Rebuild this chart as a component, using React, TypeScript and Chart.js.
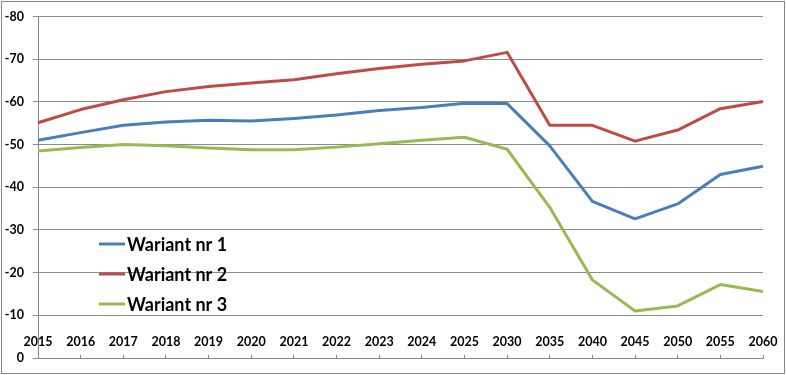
import React, { useEffect, useRef } from "react";
import { Chart, registerables } from "chart.js";

Chart.register(...registerables);

const categories = [
  "2015", "2016", "2017", "2018", "2019", "2020", "2021", "2022", "2023",
  "2024", "2025", "2030", "2035", "2040", "2045", "2050", "2055", "2060",
];
const wariant1 = [
  -51.0, -52.8, -54.5, -55.3, -55.7, -55.5, -56.1, -56.9, -58.0,
  -58.7, -59.7, -59.6, -49.7, -36.7, -32.6, -36.1, -43.0, -44.9,
];
const wariant2 = [
  -55.1, -58.2, -60.5, -62.4, -63.6, -64.4, -65.2, -66.6, -67.8,
  -68.8, -69.6, -71.6, -54.5, -54.5, -50.8, -53.4, -58.4, -60.1,
];
const wariant3 = [
  -48.5, -49.3, -50.0, -49.7, -49.2, -48.8, -48.8, -49.4, -50.2,
  -51.0, -51.7, -48.9, -35.3, -18.3, -11.0, -12.2, -17.2, -15.6,
];
const seriesNames = ["Wariant nr 1", "Wariant nr 2", "Wariant nr 3"];
const seriesColors = ["#4A7EBB", "#BE4B48", "#98B954"];
const yMin = -80;
const yMax = 0;
const yStep = 10;

const FONT = "Lato, 'Liberation Sans', Arial, sans-serif";

const frameAndLegend = {
  id: "frameAndLegend",
  afterDraw(chart: any) {
    const ctx = chart.ctx;
    ctx.save();
    // chart border
    ctx.strokeStyle = "#868686";
    ctx.lineWidth = 1;
    ctx.strokeRect(1.5, 1.5, 783, 372);
    // legend inside plot area
    const x0 = 99;
    const rows = [244, 274, 304];
    chart.data.datasets.forEach((ds: any, i: number) => {
      const y = rows[i];
      ctx.strokeStyle = ds.borderColor;
      ctx.lineWidth = 3;
      ctx.beginPath();
      ctx.moveTo(x0, y);
      ctx.lineTo(x0 + 26, y);
      ctx.stroke();
      ctx.fillStyle = "#000";
      ctx.font = `bold 18px ${FONT}`;
      ctx.textBaseline = "middle";
      ctx.textAlign = "left";
      ctx.fillText(ds.label, x0 + 28, y + 1);
    });
    ctx.restore();
  },
};

export default function App() {
  const ref = useRef<HTMLCanvasElement | null>(null);
  useEffect(() => {
    document.body.style.margin = "0";
    if (!ref.current) return;
    const datasets = [wariant1, wariant2, wariant3].map((d, i) => ({
      label: seriesNames[i],
      data: d,
      borderColor: seriesColors[i],
      backgroundColor: seriesColors[i],
      borderWidth: 3,
      pointRadius: 0,
      tension: 0,
      borderJoinStyle: "round" as const,
      fill: false,
    }));
    const chart = new Chart(ref.current, {
      type: "line",
      data: { labels: categories, datasets },
      options: {
        animation: false,
        responsive: false,
        devicePixelRatio: 1,
        layout: { padding: { left: 0, right: 23, top: 15, bottom: 17 } },
        plugins: { legend: { display: false }, tooltip: { enabled: false } },
        scales: {
          x: {
            position: { y: 0 } as any,
            offset: false,
            grid: {
              drawOnChartArea: false,
              drawTicks: true,
              tickLength: -4,
              color: "#868686",
            },
            border: { color: "#868686", width: 1 },
            ticks: {
              autoSkip: false,
              maxRotation: 0,
              padding: -20,
              color: "#000",
              font: { family: FONT, size: 12.5, weight: "bold" },
            },
          },
          y: {
            position: "left",
            min: yMin,
            max: yMax,
            reverse: true,
            afterFit: (s: any) => {
              s.width = 38;
            },
            grid: {
              color: "#8c8c8c",
              lineWidth: 1,
              drawTicks: true,
              tickLength: 5,
            },
            border: { color: "#868686", width: 1 },
            ticks: {
              stepSize: yStep,
              padding: 9,
              color: "#000",
              font: { family: FONT, size: 12.5, weight: "bold" },
            },
          },
        },
      },
      plugins: [frameAndLegend],
    });
    return () => chart.destroy();
  }, []);
  return (
    <div style={{ width: 786, height: 375, background: "#fff" }}>
      <canvas ref={ref} width={786} height={375} style={{ display: "block" }} />
    </div>
  );
}
